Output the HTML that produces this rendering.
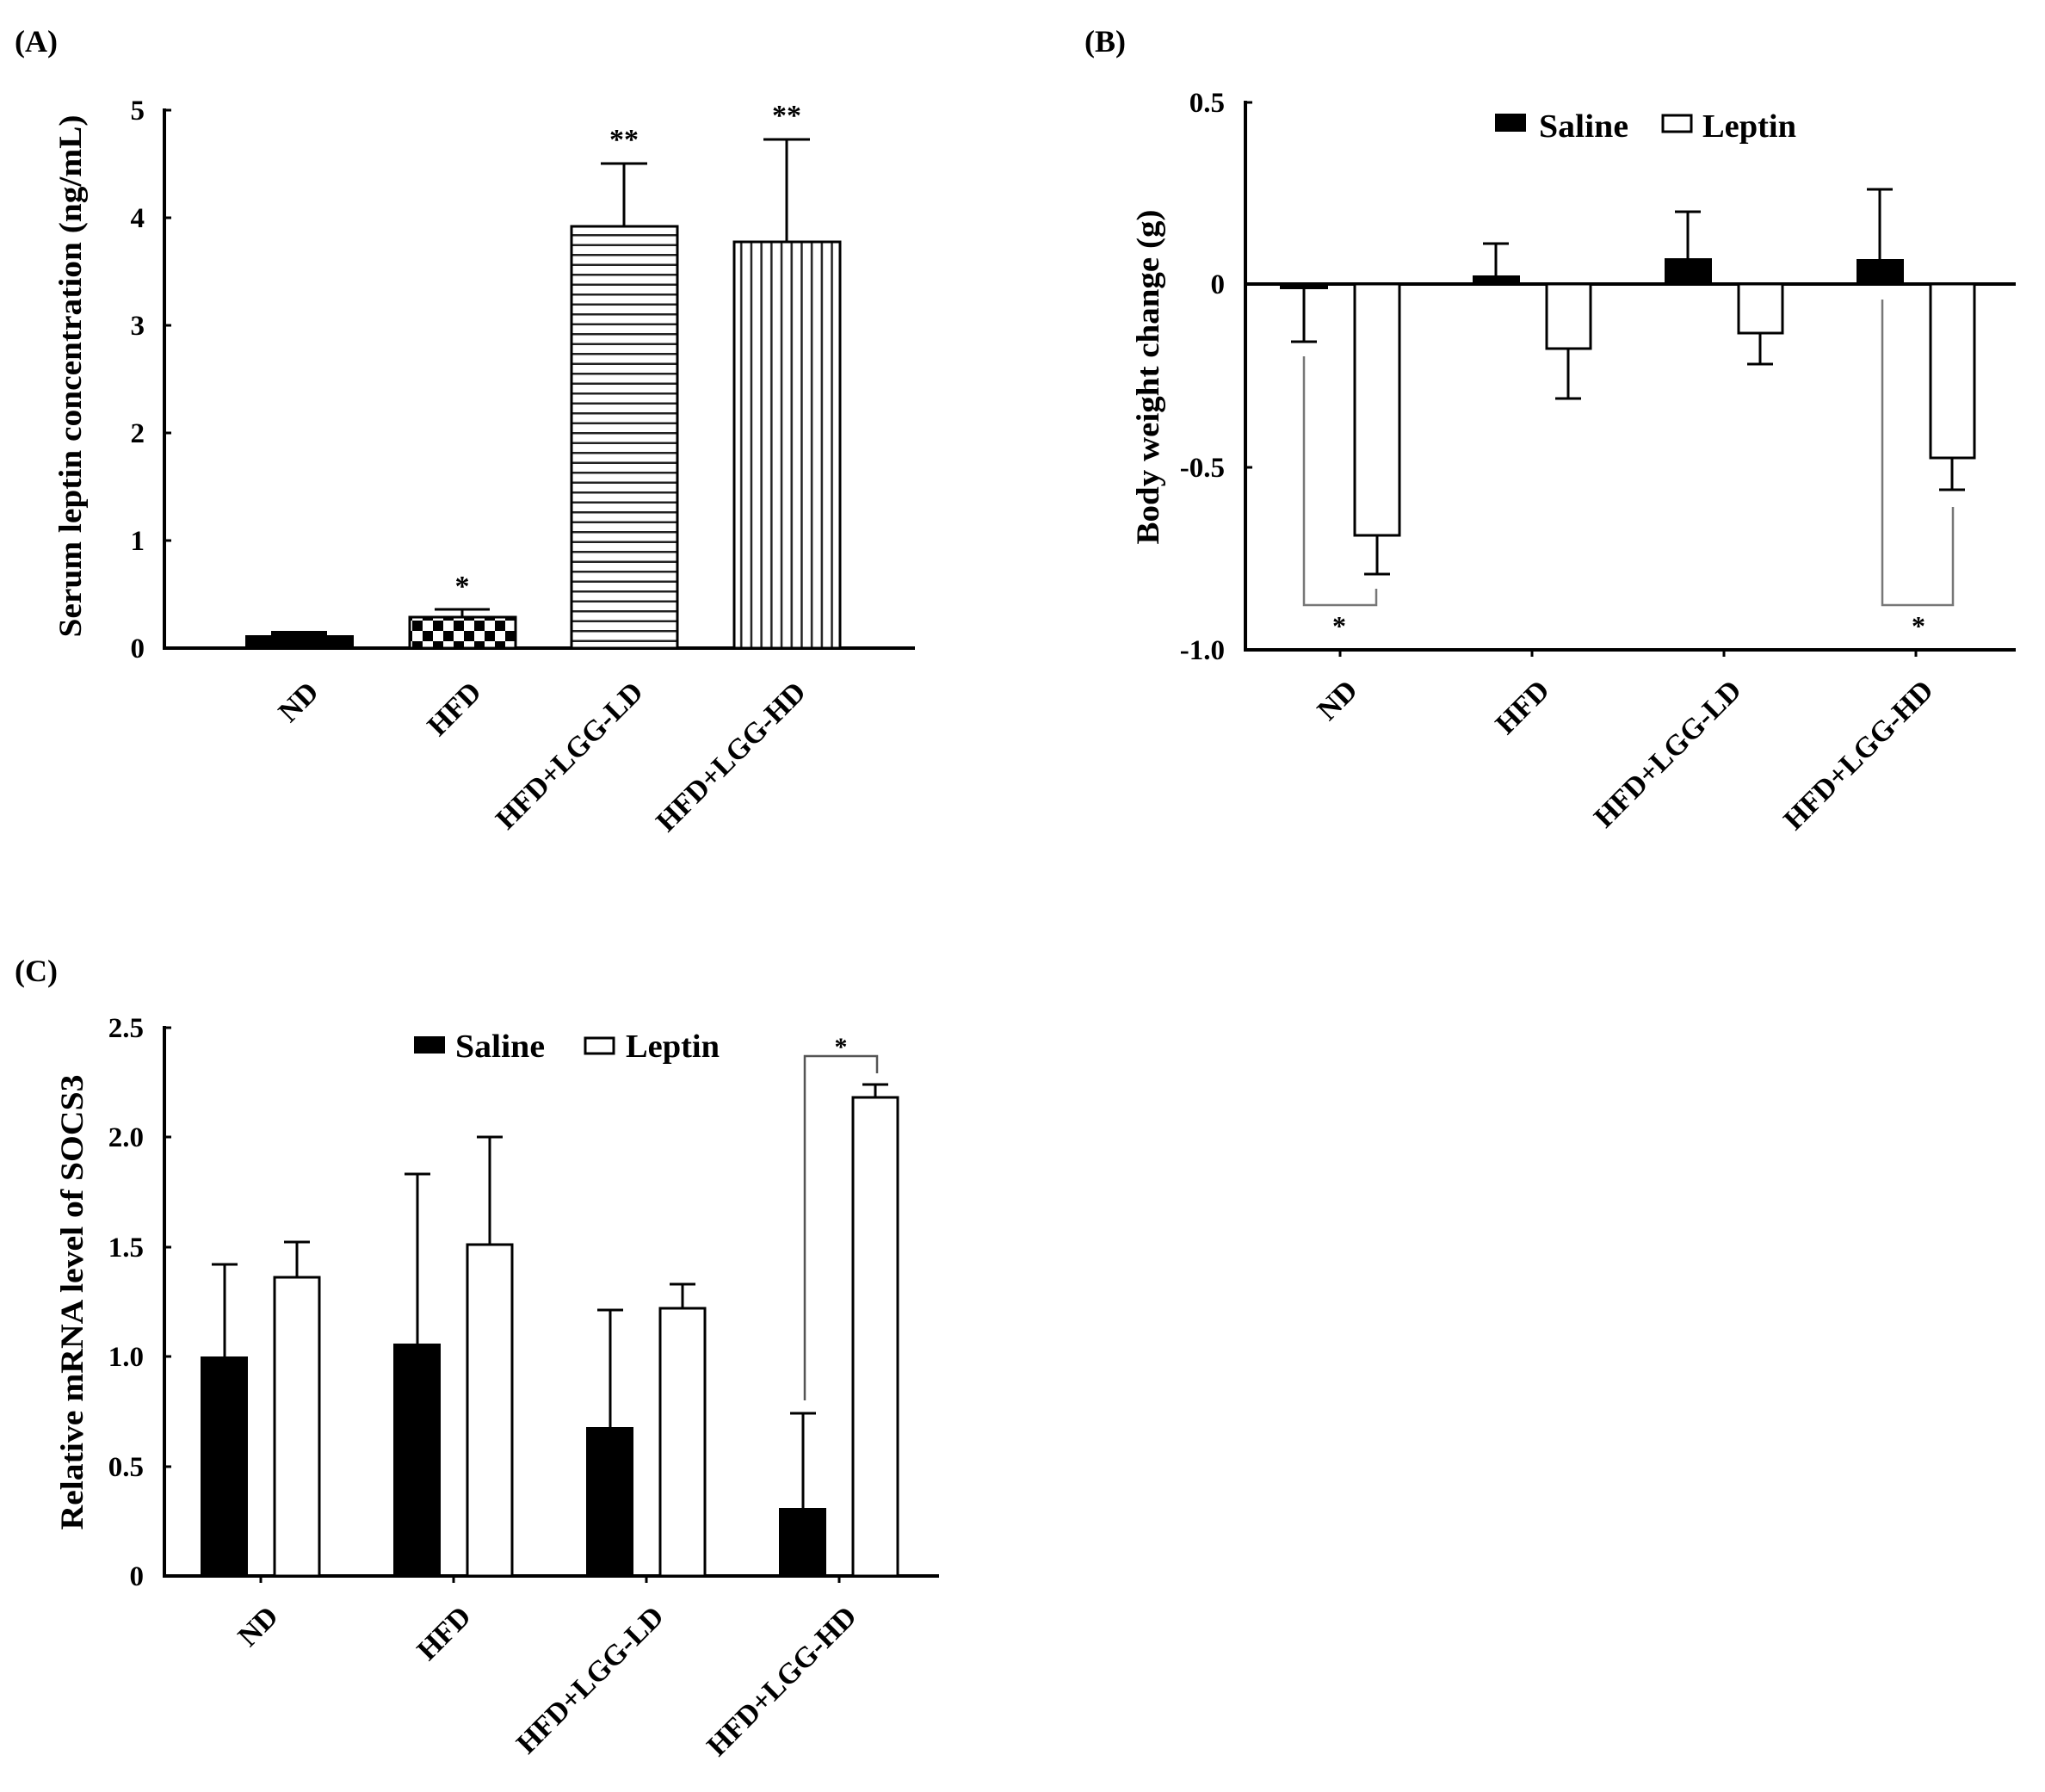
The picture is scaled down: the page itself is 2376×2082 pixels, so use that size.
<!DOCTYPE html>
<html><head><meta charset="utf-8"><style>
html,body{margin:0;padding:0;background:#fff;}
svg{display:block;}
text{font-family:"Liberation Serif",serif;font-weight:bold;fill:#000;}
</style></head><body>
<svg width="2376" height="2082" viewBox="0 0 2376 2082" xmlns="http://www.w3.org/2000/svg">
<defs>
<pattern id="chk" x="475" y="717" width="24" height="24" patternUnits="userSpaceOnUse">
<rect width="24" height="24" fill="#fff"/><rect x="4" y="4" width="12" height="12" fill="#000"/><rect x="16" y="16" width="12" height="12" fill="#000"/><rect x="-8" y="16" width="12" height="12" fill="#000"/><rect x="16" y="-8" width="12" height="12" fill="#000"/><rect x="-8" y="-8" width="12" height="12" fill="#000"/>
</pattern>
<pattern id="hs" x="0" y="263" width="12" height="11.5" patternUnits="userSpaceOnUse">
<rect width="12" height="11.5" fill="#fff"/><rect y="9" width="12" height="2.5" fill="#222"/>
</pattern>
<pattern id="vs" x="852" y="0" width="11.7" height="12" patternUnits="userSpaceOnUse">
<rect width="11.7" height="12" fill="#fff"/><rect x="8" width="2.5" height="12" fill="#222"/>
</pattern>
</defs>

<!-- ================= Panel A ================= -->
<text x="17" y="60" font-size="36">(A)</text>
<g stroke="#000" stroke-width="4" fill="none">
<line x1="191" y1="126" x2="191" y2="755"/>
<line x1="189" y1="753" x2="1063" y2="753"/>
</g>
<g stroke="#000" stroke-width="3">
<line x1="191" y1="128" x2="199" y2="128"/>
<line x1="191" y1="253" x2="199" y2="253"/>
<line x1="191" y1="378" x2="199" y2="378"/>
<line x1="191" y1="503" x2="199" y2="503"/>
<line x1="191" y1="628" x2="199" y2="628"/>
</g>
<g font-size="33" text-anchor="end">
<text x="168" y="139">5</text>
<text x="168" y="264">4</text>
<text x="168" y="389">3</text>
<text x="168" y="514">2</text>
<text x="168" y="639">1</text>
<text x="168" y="764">0</text>
</g>
<text transform="translate(94,437) rotate(-90)" font-size="37" text-anchor="middle" textLength="607" lengthAdjust="spacingAndGlyphs">Serum leptin concentration (ng/mL)</text>
<rect x="285" y="738" width="126" height="15" fill="#000"/>
<rect x="315" y="733" width="65" height="6" fill="#000"/>
<rect x="476" y="717" width="123" height="36" fill="url(#chk)" stroke="#000" stroke-width="3"/>
<rect x="664" y="263" width="123" height="490" fill="url(#hs)" stroke="#000" stroke-width="3"/>
<rect x="853" y="281" width="123" height="472" fill="url(#vs)" stroke="#000" stroke-width="3"/>
<g stroke="#000" stroke-width="3">
<line x1="537" y1="717" x2="537" y2="708"/><line x1="505" y1="708" x2="569" y2="708"/>
<line x1="725" y1="263" x2="725" y2="190"/><line x1="698" y1="190" x2="752" y2="190"/>
<line x1="914" y1="281" x2="914" y2="162"/><line x1="887" y1="162" x2="941" y2="162"/>
</g>
<g font-size="34" text-anchor="middle">
<text x="537" y="692">*</text>
<text x="725" y="173">**</text>
<text x="914" y="145">**</text>
</g>
<g font-size="34" text-anchor="end">
<text transform="translate(372,806) rotate(-45)">ND</text>
<text transform="translate(561,806) rotate(-45)">HFD</text>
<text transform="translate(749,806) rotate(-45)">HFD+LGG-LD</text>
<text transform="translate(938,806) rotate(-45)">HFD+LGG-HD</text>
</g>

<!-- ================= Panel B ================= -->
<text x="1260" y="60" font-size="36">(B)</text>
<g stroke="#000" stroke-width="4" fill="none">
<line x1="1447" y1="117" x2="1447" y2="757"/>
<line x1="1445" y1="755" x2="2342" y2="755"/>
<line x1="1447" y1="330" x2="2342" y2="330"/>
</g>
<g stroke="#000" stroke-width="3">
<line x1="1447" y1="119" x2="1455" y2="119"/>
<line x1="1447" y1="543" x2="1455" y2="543"/>
<line x1="1557" y1="755" x2="1557" y2="763"/>
<line x1="1780" y1="755" x2="1780" y2="763"/>
<line x1="2003" y1="755" x2="2003" y2="763"/>
<line x1="2226" y1="755" x2="2226" y2="763"/>
</g>
<g font-size="33" text-anchor="end">
<text x="1423" y="130">0.5</text>
<text x="1423" y="341">0</text>
<text x="1423" y="554">-0.5</text>
<text x="1423" y="766">-1.0</text>
</g>
<text transform="translate(1346,438) rotate(-90)" font-size="37" text-anchor="middle" textLength="389" lengthAdjust="spacingAndGlyphs">Body weight change (g)</text>
<rect x="1737" y="132" width="36" height="21" fill="#000"/>
<text x="1788" y="159" font-size="38" textLength="104" lengthAdjust="spacingAndGlyphs">Saline</text>
<rect x="1932" y="134" width="33" height="19" fill="#fff" stroke="#000" stroke-width="3"/>
<text x="1978" y="159" font-size="38" textLength="109" lengthAdjust="spacingAndGlyphs">Leptin</text>
<rect x="1487" y="330" width="56" height="6" fill="#000"/>
<rect x="1711" y="320" width="55" height="10" fill="#000"/>
<rect x="1934" y="300" width="55" height="30" fill="#000"/>
<rect x="2157" y="301" width="55" height="29" fill="#000"/>
<g fill="#fff" stroke="#000" stroke-width="3">
<rect x="1574" y="330" width="52" height="292"/>
<rect x="1797" y="330" width="51" height="75"/>
<rect x="2020" y="330" width="51" height="57"/>
<rect x="2243" y="330" width="51" height="202"/>
</g>
<g stroke="#000" stroke-width="3">
<line x1="1515" y1="336" x2="1515" y2="397"/><line x1="1500" y1="397" x2="1530" y2="397"/>
<line x1="1600" y1="622" x2="1600" y2="667"/><line x1="1585" y1="667" x2="1615" y2="667"/>
<line x1="1738" y1="320" x2="1738" y2="283"/><line x1="1723" y1="283" x2="1753" y2="283"/>
<line x1="1822" y1="405" x2="1822" y2="463"/><line x1="1807" y1="463" x2="1837" y2="463"/>
<line x1="1961" y1="300" x2="1961" y2="246"/><line x1="1946" y1="246" x2="1976" y2="246"/>
<line x1="2045" y1="387" x2="2045" y2="423"/><line x1="2030" y1="423" x2="2060" y2="423"/>
<line x1="2184" y1="301" x2="2184" y2="220"/><line x1="2169" y1="220" x2="2199" y2="220"/>
<line x1="2268" y1="532" x2="2268" y2="569"/><line x1="2253" y1="569" x2="2283" y2="569"/>
</g>
<g stroke="#777" stroke-width="2.5" fill="none">
<polyline points="1515,414 1515,703 1599,703 1599,684"/>
<polyline points="2187,348 2187,703 2269,703 2269,589"/>
</g>
<g font-size="32" text-anchor="middle">
<text x="1556" y="738">*</text>
<text x="2229" y="738">*</text>
</g>
<g font-size="34" text-anchor="end">
<text transform="translate(1579,804) rotate(-45)">ND</text>
<text transform="translate(1802,804) rotate(-45)">HFD</text>
<text transform="translate(2025,804) rotate(-45)">HFD+LGG-LD</text>
<text transform="translate(2248,804) rotate(-45)">HFD+LGG-HD</text>
</g>

<!-- ================= Panel C ================= -->
<text x="17" y="1140" font-size="36">(C)</text>
<g stroke="#000" stroke-width="4" fill="none">
<line x1="191" y1="1192" x2="191" y2="1833"/>
<line x1="189" y1="1831" x2="1091" y2="1831"/>
</g>
<g stroke="#000" stroke-width="3">
<line x1="191" y1="1194" x2="199" y2="1194"/>
<line x1="191" y1="1321" x2="199" y2="1321"/>
<line x1="191" y1="1449" x2="199" y2="1449"/>
<line x1="191" y1="1576" x2="199" y2="1576"/>
<line x1="191" y1="1704" x2="199" y2="1704"/>
<line x1="303" y1="1831" x2="303" y2="1839"/>
<line x1="527" y1="1831" x2="527" y2="1839"/>
<line x1="751" y1="1831" x2="751" y2="1839"/>
<line x1="975" y1="1831" x2="975" y2="1839"/>
</g>
<g font-size="33" text-anchor="end">
<text x="167" y="1205">2.5</text>
<text x="167" y="1332">2.0</text>
<text x="167" y="1460">1.5</text>
<text x="167" y="1587">1.0</text>
<text x="167" y="1715">0.5</text>
<text x="167" y="1842">0</text>
</g>
<text transform="translate(96,1513) rotate(-90)" font-size="37" text-anchor="middle" textLength="529" lengthAdjust="spacingAndGlyphs">Relative mRNA level of SOCS3</text>
<rect x="481" y="1204" width="36" height="20" fill="#000"/>
<text x="529" y="1228" font-size="38" textLength="104" lengthAdjust="spacingAndGlyphs">Saline</text>
<rect x="680" y="1206" width="33" height="18" fill="#fff" stroke="#000" stroke-width="3"/>
<text x="727" y="1228" font-size="38" textLength="109" lengthAdjust="spacingAndGlyphs">Leptin</text>
<rect x="233" y="1576" width="55" height="255" fill="#000"/>
<rect x="457" y="1561" width="55" height="270" fill="#000"/>
<rect x="681" y="1658" width="55" height="173" fill="#000"/>
<rect x="905" y="1752" width="55" height="79" fill="#000"/>
<g fill="#fff" stroke="#000" stroke-width="3">
<rect x="319" y="1484" width="52" height="347"/>
<rect x="543" y="1446" width="52" height="385"/>
<rect x="767" y="1520" width="52" height="311"/>
<rect x="991" y="1275" width="52" height="556"/>
</g>
<g stroke="#000" stroke-width="3">
<line x1="261" y1="1576" x2="261" y2="1469"/><line x1="246" y1="1469" x2="276" y2="1469"/>
<line x1="345" y1="1484" x2="345" y2="1443"/><line x1="330" y1="1443" x2="360" y2="1443"/>
<line x1="485" y1="1561" x2="485" y2="1364"/><line x1="470" y1="1364" x2="500" y2="1364"/>
<line x1="569" y1="1446" x2="569" y2="1321"/><line x1="554" y1="1321" x2="584" y2="1321"/>
<line x1="709" y1="1658" x2="709" y2="1522"/><line x1="694" y1="1522" x2="724" y2="1522"/>
<line x1="793" y1="1520" x2="793" y2="1492"/><line x1="778" y1="1492" x2="808" y2="1492"/>
<line x1="933" y1="1752" x2="933" y2="1642"/><line x1="918" y1="1642" x2="948" y2="1642"/>
<line x1="1017" y1="1275" x2="1017" y2="1260"/><line x1="1002" y1="1260" x2="1032" y2="1260"/>
</g>
<polyline points="935,1627 935,1227 1019,1227 1019,1247" stroke="#555" stroke-width="2.5" fill="none"/>
<text x="977" y="1226" font-size="30" text-anchor="middle">*</text>
<g font-size="34" text-anchor="end">
<text transform="translate(325,1880) rotate(-45)">ND</text>
<text transform="translate(549,1880) rotate(-45)">HFD</text>
<text transform="translate(773,1880) rotate(-45)">HFD+LGG-LD</text>
<text transform="translate(997,1880) rotate(-45)">HFD+LGG-HD</text>
</g>
</svg>
</body></html>
